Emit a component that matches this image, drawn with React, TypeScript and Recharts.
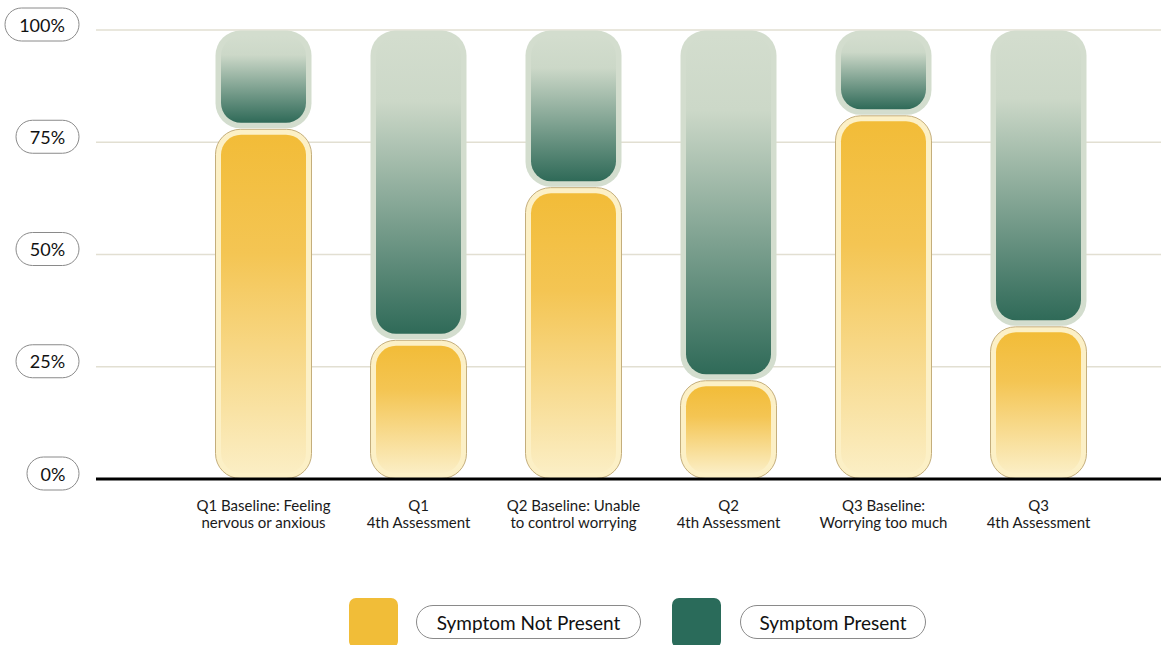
import React from "react"
import { BarChart, Bar, XAxis, YAxis, CartesianGrid, Legend } from "recharts"

// tick labels (two lines each)
const labelTop = [
  "Q1 Baseline: Feeling",
  "Q1",
  "Q2 Baseline: Unable",
  "Q2",
  "Q3 Baseline:",
  "Q3",
]
const labelBottom = [
  "nervous or anxious",
  "4th Assessment",
  "to control worrying",
  "4th Assessment",
  "Worrying too much",
  "4th Assessment",
]
const categories = [
  "Q1 Baseline",
  "Q1 4th Assessment",
  "Q2 Baseline",
  "Q2 4th Assessment",
  "Q3 Baseline",
  "Q3 4th Assessment",
]
// percentages
const notPresent = [78, 31, 65, 22, 81, 34]
const present = [22, 69, 35, 78, 19, 66]
const yTicks = [0, 25, 50, 75, 100]

const data = categories.map((name, i) => ({
  name,
  idx: i,
  notPresent: notPresent[i],
  present: present[i],
}))

const FONT = "Lato, 'Noto Sans', sans-serif"

function Segment(props: any) {
  const { x, y, width, height, kind } = props
  if (!height || height <= 0) return null
  const yellow = kind === "yellow"
  const r = Math.min(25, height / 2)
  const inset = 6
  const ir = Math.min(20, (height - inset * 2) / 2)
  return (
    <g>
      <rect
        x={x + 0.5}
        y={y + 0.5}
        width={width - 1}
        height={height - 1}
        rx={r}
        ry={r}
        fill={yellow ? "#FCF0C6" : "#D3DDCE"}
        stroke={yellow ? "#C4AE7C" : "none"}
        strokeWidth={1}
      />
      <rect
        x={x + inset}
        y={y + inset}
        width={width - inset * 2}
        height={Math.max(0, height - inset * 2)}
        rx={ir}
        ry={ir}
        fill={yellow ? "url(#gradYellow)" : "url(#gradGreen)"}
      />
    </g>
  )
}

function YTick(props: any) {
  const { x, y, payload } = props
  const label = `${payload.value}%`
  const w = 30 + 11 * label.length
  const h = 33
  const cy = y - 5.5
  return (
    <g>
      <rect
        x={x - w}
        y={cy - h / 2}
        width={w}
        height={h}
        rx={h / 2}
        ry={h / 2}
        fill="#fff"
        stroke="#8a8a8a"
        strokeWidth={1}
      />
      <text
        x={x - w / 2}
        y={cy}
        textAnchor="middle"
        dominantBaseline="central"
        fontFamily={FONT}
        fontSize={18}
        fill="#111"
      >
        {label}
      </text>
    </g>
  )
}

function XTick(props: any) {
  const { x, y, index } = props
  return (
    <g>
      <text x={x} y={y + 32} textAnchor="middle" fontFamily={FONT} fontSize={15} fill="#1a1a1a">
        {labelTop[index]}
      </text>
      <text x={x} y={y + 49} textAnchor="middle" fontFamily={FONT} fontSize={15} fill="#1a1a1a">
        {labelBottom[index]}
      </text>
    </g>
  )
}

function LegendContent() {
  const pill = (text: string, left: number, width: number) => (
    <div
      style={{
        position: "absolute",
        left,
        top: 7,
        width,
        height: 34,
        boxSizing: "border-box",
        border: "1px solid #8a8a8a",
        borderRadius: 17,
        display: "flex",
        alignItems: "center",
        justifyContent: "center",
        fontFamily: FONT,
        fontSize: 19,
        color: "#111",
      }}
    >
      {text}
    </div>
  )
  const swatch = (color: string, left: number) => (
    <div
      style={{
        position: "absolute",
        left,
        top: 0,
        width: 49,
        height: 50,
        borderRadius: 7,
        background: color,
      }}
    />
  )
  return (
    <div style={{ position: "relative", width: 1161, height: 47, overflow: "hidden" }}>
      {swatch("#F1BD38", 349)}
      {pill("Symptom Not Present", 416, 225)}
      {swatch("#2A6B5A", 672)}
      {pill("Symptom Present", 740, 186)}
    </div>
  )
}

export default function App() {
  return (
    <div style={{ position: "absolute", left: 0, top: 0, width: 1161, height: 645, background: "#fff" }}>
      <BarChart
        width={1161}
        height={645}
        data={data}
        margin={{ top: 30, right: 0, left: 0, bottom: 0 }}
      >
        <defs>
          <linearGradient id="gradYellow" x1="0" y1="0" x2="0" y2="1">
            <stop offset="0" stopColor="#F2BC38" />
            <stop offset="0.35" stopColor="#F4C553" />
            <stop offset="1" stopColor="#FBEEC4" />
          </linearGradient>
          <linearGradient id="gradGreen" x1="0" y1="0" x2="0" y2="1">
            <stop offset="0" stopColor="#D3DDCE" />
            <stop offset="0.22" stopColor="#CCD8C8" />
            <stop offset="1" stopColor="#2F6A58" />
          </linearGradient>
        </defs>
        <CartesianGrid vertical={false} stroke="#E2DFD2" strokeWidth={1.5} />
        <XAxis
          dataKey="name"
          height={119}
          padding={{ left: 90, right: 45 }}
          axisLine={{ stroke: "#000", strokeWidth: 3 }}
          tickLine={false}
          tickSize={0}
          tickMargin={0}
          tick={<XTick />}
          interval={0}
        />
        <YAxis
          width={96}
          domain={[0, 100]}
          ticks={yTicks}
          axisLine={false}
          tickLine={false}
          tickSize={0}
          tickMargin={17}
          tick={<YTick />}
          interval={0}
        />
        <Legend verticalAlign="bottom" height={47} content={<LegendContent />} />
        <Bar
          dataKey="notPresent"
          stackId="a"
          barSize={97}
          isAnimationActive={false}
          shape={(p: any) => <Segment {...p} kind="yellow" />}
        />
        <Bar
          dataKey="present"
          stackId="a"
          barSize={97}
          isAnimationActive={false}
          shape={(p: any) => <Segment {...p} kind="green" />}
        />
      </BarChart>
    </div>
  )
}
